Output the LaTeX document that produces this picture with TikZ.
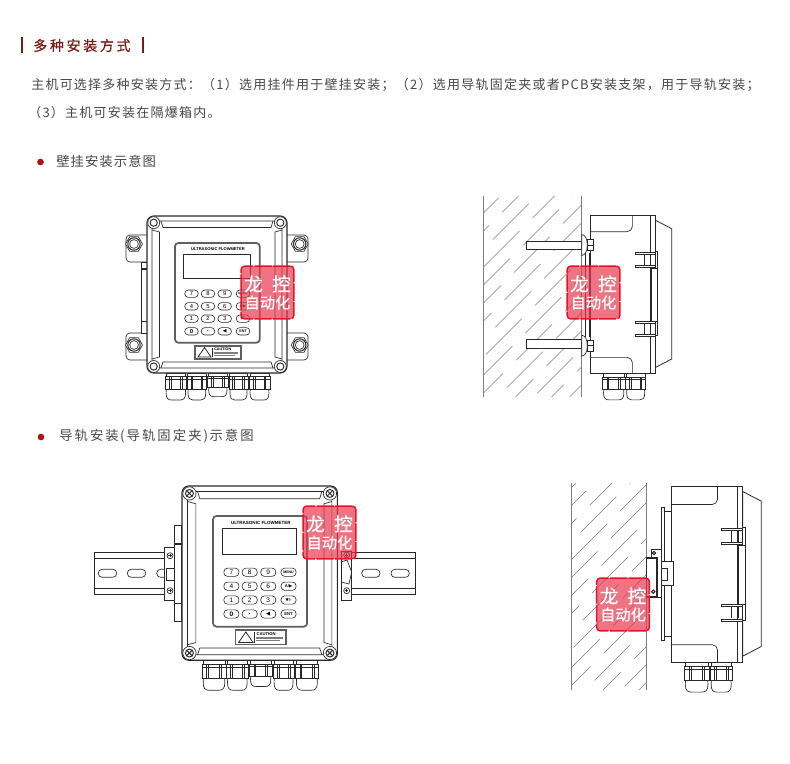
\documentclass[tikz,border=0pt]{standalone}
\usepackage{fontspec}
\usepackage{xcolor}
\setsansfont{Liberation Sans}
\newfontfamily\cjkstamp[FakeBold=.6]{Noto Sans CJK SC}
\newfontfamily\cjkbody[LetterSpace=9.6]{Noto Sans CJK SC}
\newfontfamily\cjksuba[LetterSpace=8]{Noto Sans CJK SC}
\newfontfamily\cjksubb[LetterSpace=15.5]{Noto Sans CJK SC}
\newfontfamily\cjkhead[LetterSpace=19,FakeBold=.6]{Noto Sans CJK SC}
\newfontfamily\keysym{DejaVu Sans}
\usetikzlibrary{positioning}
\definecolor{myred}{RGB}{122,26,18}
\definecolor{mybullet}{RGB}{176,18,22}
\definecolor{mytext}{RGB}{72,72,72}
\definecolor{myline}{RGB}{40,40,40}
\definecolor{mygray}{RGB}{95,95,95}
\definecolor{myhatch}{RGB}{125,125,125}
\definecolor{mystampb}{RGB}{232,58,80}
\definecolor{mystampr}{RGB}{230,20,40}
\tikzset{
  devline/.style={draw=myline, line width=.5pt},
  thickline/.style={draw=mygray, line width=1.3pt},
  hatchline/.style={draw=myhatch, line width=.35pt},
  keyb/.style={
    draw=myline,
    fill=white,
    line width=.45pt,
    rounded corners=2.8pt,
    minimum width=10.2pt,
    minimum height=5.6pt,
    inner sep=0pt,
    transform shape,
    font={\fontsize{4.4}{5}\sffamily\selectfont}},
  stampb/.style={
    draw=mystampr,
    fill=mystampb,
    fill opacity=.7,
    text opacity=1,
    line width=1.1pt,
    dash pattern=on 13pt off 1pt,
    rounded corners=2.5pt,
    minimum width=39.5pt,
    minimum height=39.5pt,
    inner sep=0pt,
    align=center,
    text=white},
  headtext/.style={inner sep=0pt, anchor=west, text=myred,
    font={\fontsize{10.5}{12}\cjkhead\selectfont}},
  bodytext/.style={inner sep=0pt, anchor=west, text=mytext,
    font={\fontsize{9.75}{12}\cjkbody\selectfont}},
  subatext/.style={inner sep=0pt, anchor=west, text=mytext,
    font={\fontsize{10}{12}\cjksuba\selectfont}},
  subbtext/.style={inner sep=0pt, anchor=west, text=mytext,
    font={\fontsize{10}{12}\cjksubb\selectfont}},
  dotb/.style={circle, fill=mybullet, inner sep=0pt, minimum size=5pt},
}
\newcommand{\stamptext}{{\fontsize{14}{15}\cjkstamp\selectfont 龙\hspace{7pt}控}\\[1pt]{\fontsize{11.4}{13}\cjkstamp\selectfont 自动化}}
\newcommand{\cornerscrew}[2]{%
  \draw[devline,fill=white] (#1,#2) circle (6);
  \draw[devline,line width=.7pt] (#1,#2) circle (3.6);
}
\newcommand{\hexbolt}[2]{%
  \draw[devline,fill=white] (#1,#2) +(0:8.5) -- +(60:8.5) -- +(120:8.5) -- +(180:8.5) -- +(240:8.5) -- +(300:8.5) -- cycle;
  \draw[devline,line width=.8pt] (#1,#2) circle (6.2);
  \draw[devline] (#1,#2) circle (4.4);
}
% x, top, width, height
\newcommand{\glandunit}[4]{%
  \begin{scope}[shift={(#1,#2)},xscale=#3,yscale=#4]
    \draw[devline,fill=white] (.06,.6) -- (.05,.74) .. controls (.05,.95) and (.15,1) .. (.3,1) -- (.7,1) .. controls (.85,1) and (.95,.95) .. (.95,.74) -- (.94,.6) -- cycle;
    \draw[devline,fill=white] (.04,0) rectangle (.96,.14);
    \draw[devline,fill=white] (0,.14) rectangle (1,.6);
    \draw[devline] (0,.22) -- (1,.22);
    \draw[devline] (.2,.14) -- (.2,.6) (.28,.14) -- (.28,.6) (.72,.14) -- (.72,.6) (.8,.14) -- (.8,.6);
  \end{scope}
}
\newcommand{\glandrow}{%
  \glandunit{18}{157}{21.7}{27}
  \glandunit{40}{157}{19.7}{27}
  \glandunit{60.7}{157}{20.3}{23.6}
  \glandunit{82}{157}{19}{27}
  \glandunit{102}{157}{21}{27}
}
\tikzset{
  frontunit/.pic={
    \draw[devline,line width=.8pt,fill=white,rounded corners=5pt] (0,0) rectangle (140,157);
    \draw[devline,rounded corners=3pt] (5,5) rectangle (135,152);
    \draw[devline] (14,5) -- (16,11.5) -- (124,11.5) -- (126,5);
    \draw[devline] (14,152) -- (16,146) -- (124,146) -- (126,152);
    \draw[devline] (5,14) -- (12.5,16) -- (12.5,141) -- (5,143);
    \draw[devline] (135,14) -- (128,16) -- (128,141) -- (135,143);
    \foreach \sx/\sy in {6.7/6.7,133.3/6.7,6.7/150.5,133.3/150.5}{
      \cornerscrew{\sx}{\sy}
    }
    \draw[thickline,rounded corners=2.5pt] (28,27) rectangle (112.7,126.7);
    \node[transform shape,inner sep=0pt,text=black,font={\fontsize{3.05}{4}\sffamily\bfseries\selectfont}] (utitle) at (71,33.4) {ULTRASONIC FLOWMETER};
    \draw[draw=myline,line width=.7pt] (36.7,38) rectangle (103,62);
    \foreach \kx/\ky/\ktxt in {
      44.5/77.7/7,61/77.7/8,77.7/77.7/9,96/77.7/{\fontsize{2.4}{3}\bfseries\selectfont MENU},
      44.5/90.3/4,61/90.3/5,77.7/90.3/6,96/90.3/{\fontsize{2.8}{3}\bfseries\selectfont A/\keysym ▶},
      44.5/102.7/1,61/102.7/2,77.7/102.7/3,96/102.7/{\fontsize{2.8}{3}\bfseries\selectfont\keysym ▼\sffamily/-},
      44.5/115.3/{\bfseries 0},61/115.3/{\bfseries .},77.7/115.3/{\fontsize{3.6}{4}\keysym\selectfont ◀},96/115.3/{\fontsize{2.8}{3}\bfseries\selectfont ENT}}{
      \node[keyb] at (\kx,\ky) {\ktxt};
    }
    \draw[thickline,fill=white] (48.3,130) rectangle (93.7,142.7);
    \draw[devline,line width=.6pt] (51,141) -- (57.5,131.5) -- (64,141) -- cycle;
    \draw[devline,line width=.4pt] (65.5,131.5) -- (65.5,141);
    \node[transform shape,inner sep=0pt,anchor=west,text=black,font={\fontsize{2.8}{3}\sffamily\bfseries\selectfont}] (ucaution) at (67,133.6) {CAUTION};
    \draw[myhatch,line width=.9pt] (67,137) -- (91,137) (67,139.3) -- (88,139.3);
  },
  sideunit/.pic={
    \draw[devline,line width=.6pt,fill=white] (64.3,4.3) -- (81,13) -- (81,143.3) -- (64.3,152) -- cycle;
    \draw[devline,line width=.6pt,fill=white] (0,0) rectangle (64.3,157.7);
    \draw[devline] (59.3,0) -- (59.3,157.7);
    \draw[devline,rounded corners=4pt] (41.7,0) -- (41.7,16) -- (0,16);
    \draw[devline,rounded corners=4pt] (0,141.7) -- (41.7,141.7) -- (41.7,157.7);
    \draw[devline] (54,39) -- (54,50) (60,39) -- (60,50) (54,108) -- (54,118) (60,108) -- (60,118);
    \draw[devline,fill=white] (64.3,36) rectangle (66.7,120);
    \foreach \by in {37,50,105.5,119}{
      \draw[devline,fill=white] (45,\by) rectangle (64.3,\by+2);
    }
    \draw[devline,fill=white] (60,52.7) rectangle (66.7,105.3);
    \draw[draw=myline,line width=1pt] (60.5,52.7) -- (60.5,105.3);
    \glandunit{11.7}{157.7}{22.6}{26.5}
    \glandunit{35}{157.7}{20}{26.5}
  },
}
% wall x1, y1, x2, y2
\newcommand{\wallhatch}[4]{%
  \begin{scope}
    \clip (#1,#2) rectangle (#3,#4);
    \foreach \hx [count=\hi] in {-220,-202,...,660}{
      \pgfmathsetmacro{\hphase}{mod(\hi*29,52)}
      \draw[hatchline,dash pattern=on 38pt off 14pt,dash phase=\hphase pt] (#1+\hx,#4) -- ++(300,-300);
    }
  \end{scope}
  \draw[draw=myhatch,line width=.7pt] (#1,#2) -- (#1,#4) (#3,#2) -- (#3,#4);
}
\begin{document}
\begin{tikzpicture}[x=.75pt,y=-.75pt]
\path[use as bounding box,fill=white] (0,0) rectangle (790,764);

% texts
\draw[draw=myred,line width=1.5pt] (21.5,37) -- (21.5,53) (143,37) -- (143,53);
\node[headtext] (head) at (33,45.5) {多种安装方式};
\node[bodytext] (bodya) at (31,85) {主机可选择多种安装方式：（1）选用挂件用于壁挂安装；（2）选用导轨固定夹或者PCB安装支架，用于导轨安装；};
\node[bodytext] (bodyb) at (28,112.5) {（3）主机可安装在隔爆箱内。};
\node[dotb] (dota) at (40.5,162) {};
\node[subatext] (suba) at (56,161) {壁挂安装示意图};
\node[dotb] (dotc) at (41,437) {};
\node[subbtext] (subb) at (59,436.5) {导轨安装\kern1pt(导轨固定夹)\kern1pt示意图};

% wall mounting, front
\begin{scope}[shift={(147,216)}]
  \foreach \ex in {-21,119}{
    \draw[devline,fill=white,rounded corners=3pt] (\ex,19) rectangle (\ex+42,46);
    \draw[devline,fill=white,rounded corners=3pt] (\ex,117) rectangle (\ex+42,144);
  }
  \draw[devline,fill=white] (-5.5,46) rectangle (0,117);
  \draw[devline,line width=.8pt] (-5.5,53) -- (0,53) (-5.5,105.5) -- (0,105.5);
  \hexbolt{-13}{28}
  \hexbolt{-13}{129}
  \hexbolt{152.7}{28}
  \hexbolt{152.7}{129}
  \glandrow
\end{scope}
\pic (fronta) at (147,216) {frontunit};

% wall mounting, side
\wallhatch{483.5}{196}{581.5}{397}
\foreach \ry in {241,339.5}{
  \draw[devline,line width=.7pt,fill=white] (526.7,\ry) rectangle (581.7,\ry+8.5);
}
\pic (sidea) at (590.7,215.7) {sideunit};
\draw[devline,line width=.6pt] (585,253) -- (585,337) (589.3,253) -- (589.3,337);
\foreach \ry in {245,345.7}{
  \draw[devline,fill=white] (581.7,\ry-10.5) .. controls (585,\ry-10) and (587.3,\ry-7) .. (587.3,\ry) .. controls (587.3,\ry+7) and (585,\ry+10) .. (581.7,\ry+10.5) -- cycle;
  \draw[devline,fill=white] (587.3,\ry-5.5) rectangle (593.3,\ry+5.5);
  \draw[devline] (587.3,\ry) -- (593.3,\ry);
}

% rail mounting, front
\foreach \rx/\rw in {94.3/70,351.7/63.5}{
  \draw[devline,line width=.6pt] (\rx,552.3) rectangle (\rx+\rw,594.3);
  \draw[devline] (\rx,558.3) -- (\rx+\rw,558.3) (\rx,588.3) -- (\rx+\rw,588.3);
}
\foreach \sx/\sw in {98.3/18.4,127.3/18.4,156.7/12,361.7/18.3,391/18.3}{
  \draw[devline,rounded corners=2.9pt] (\sx,569.3) rectangle (\sx+\sw,577.3);
}
\draw[devline,fill=white] (164.3,547.7) rectangle (174.3,600);
\draw[devline,fill=white] (166.7,568.3) rectangle (174,580);
\draw[devline,fill=white] (174,525.7) rectangle (181.7,621);
\draw[devline,line width=.8pt] (174,544) -- (181.7,544) (174,603.3) -- (181.7,603.3);
\draw[devline,fill=white] (341,551.7) rectangle (351.7,600);
\draw[devline] (341,562) -- (347,560) -- (351.7,572) -- (349,584) -- (341,582);
\foreach \cx/\cy in {170/555.7,170/590.7,346.7/555,346.7/590.7}{
  \draw[devline,fill=white] (\cx,\cy) circle (3);
  \draw[draw=myline,line width=.6pt] (\cx-1.6,\cy) -- (\cx+1.6,\cy) (\cx,\cy-1.6) -- (\cx,\cy+1.6);
}
\begin{scope}[shift={(182,486)},scale=1.11]
  \glandrow
\end{scope}
\pic[scale=1.11] (frontb) at (182,486) {frontunit};
\foreach \cx/\cy in {189.4/493.4,329.9/493.4,189.4/653,329.9/653}{
  \draw[draw=myline,line width=.7pt] (\cx-2.6,\cy-2.6) -- (\cx+2.6,\cy+2.6) (\cx-2.6,\cy+2.6) -- (\cx+2.6,\cy-2.6);
}

% rail mounting, side
\wallhatch{571}{483}{646}{690}
\draw[devline,fill=white] (664,511.7) rectangle (671,636.7);
\draw[devline,fill=white] (661,507.3) rectangle (664,640.7);
\pic[scale=1.115] (sideb) at (671,486.7) {sideunit};
\draw[devline,fill=white] (661.7,549) -- (651,549) -- (651,558) -- (657,558) -- (657,597) -- (661.7,597) -- cycle;
\draw[devline,line width=.8pt,fill=white] (646.7,558) rectangle (657,597);
\draw[devline,fill=white] (661.7,561.7) -- (673.3,561.7) -- (673.3,585) -- (661.7,585) -- cycle;
\draw[devline,fill=white] (661.7,568.3) rectangle (667.3,580.7);
\draw[draw=myline,line width=.8pt,fill=white] (654,553) circle (1.7);
\draw[draw=myline,line width=.8pt,fill=white] (653.3,591.7) circle (1.7);

% stamps
\node[stampb] (stamp1) at (267.5,292.5) {\stamptext};
\node[stampb] (stamp2) at (593.5,292.5) {\stamptext};
\node[stampb] (stamp3) at (329.5,532.5) {\stamptext};
\node[stampb] (stamp4) at (623,604.5) {\stamptext};
\end{tikzpicture}
\end{document}
